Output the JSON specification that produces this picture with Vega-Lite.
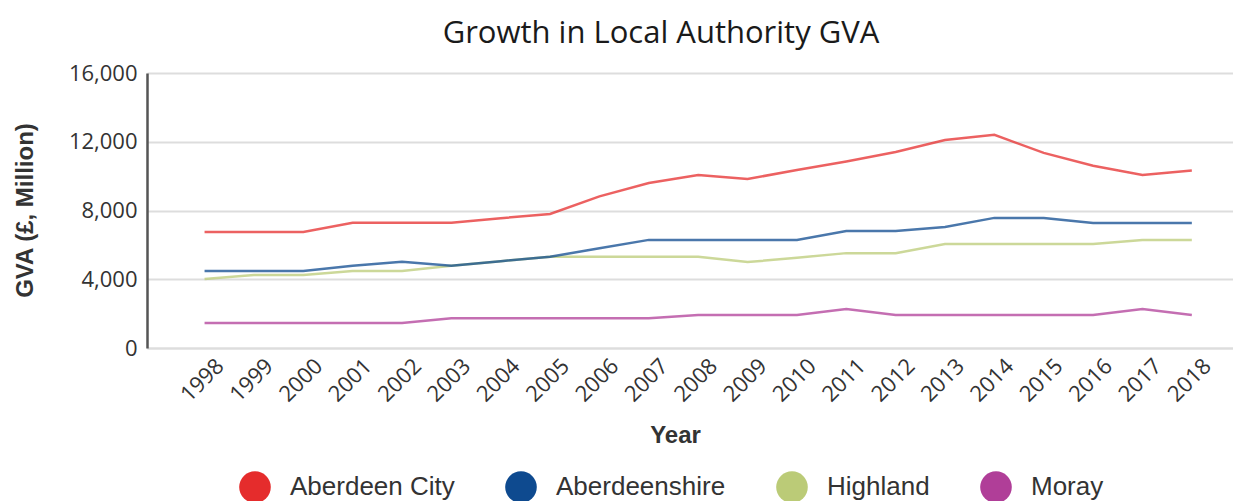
{
  "$schema": "https://vega.github.io/schema/vega-lite/v6.json",
  "autosize": "none",
  "width": 1086,
  "height": 275,
  "padding": {"left": 147, "top": 73, "right": 0, "bottom": 153},
  "background": "white",
  "title": {
    "text": "Growth in Local Authority GVA",
    "font": "Open Sans",
    "fontSize": 31,
    "fontWeight": "normal",
    "color": "#1a1a1a",
    "anchor": "middle",
    "dx": -29,
    "dy": 31,
    "offset": 19,
    "baseline": "alphabetic"
  },
  "data": {
    "values": [
      {"Year": 1998, "Area": "Highland", "GVA": 4010},
      {"Year": 1999, "Area": "Highland", "GVA": 4250},
      {"Year": 2000, "Area": "Highland", "GVA": 4250},
      {"Year": 2001, "Area": "Highland", "GVA": 4480},
      {"Year": 2002, "Area": "Highland", "GVA": 4480},
      {"Year": 2003, "Area": "Highland", "GVA": 4790},
      {"Year": 2004, "Area": "Highland", "GVA": 5050},
      {"Year": 2005, "Area": "Highland", "GVA": 5310},
      {"Year": 2006, "Area": "Highland", "GVA": 5310},
      {"Year": 2007, "Area": "Highland", "GVA": 5310},
      {"Year": 2008, "Area": "Highland", "GVA": 5310},
      {"Year": 2009, "Area": "Highland", "GVA": 5000},
      {"Year": 2010, "Area": "Highland", "GVA": 5250},
      {"Year": 2011, "Area": "Highland", "GVA": 5520},
      {"Year": 2012, "Area": "Highland", "GVA": 5520},
      {"Year": 2013, "Area": "Highland", "GVA": 6050},
      {"Year": 2014, "Area": "Highland", "GVA": 6050},
      {"Year": 2015, "Area": "Highland", "GVA": 6050},
      {"Year": 2016, "Area": "Highland", "GVA": 6050},
      {"Year": 2017, "Area": "Highland", "GVA": 6290},
      {"Year": 2018, "Area": "Highland", "GVA": 6290},
      {"Year": 1998, "Area": "Moray", "GVA": 1450},
      {"Year": 1999, "Area": "Moray", "GVA": 1450},
      {"Year": 2000, "Area": "Moray", "GVA": 1450},
      {"Year": 2001, "Area": "Moray", "GVA": 1450},
      {"Year": 2002, "Area": "Moray", "GVA": 1450},
      {"Year": 2003, "Area": "Moray", "GVA": 1730},
      {"Year": 2004, "Area": "Moray", "GVA": 1730},
      {"Year": 2005, "Area": "Moray", "GVA": 1730},
      {"Year": 2006, "Area": "Moray", "GVA": 1730},
      {"Year": 2007, "Area": "Moray", "GVA": 1730},
      {"Year": 2008, "Area": "Moray", "GVA": 1920},
      {"Year": 2009, "Area": "Moray", "GVA": 1920},
      {"Year": 2010, "Area": "Moray", "GVA": 1920},
      {"Year": 2011, "Area": "Moray", "GVA": 2270},
      {"Year": 2012, "Area": "Moray", "GVA": 1920},
      {"Year": 2013, "Area": "Moray", "GVA": 1920},
      {"Year": 2014, "Area": "Moray", "GVA": 1920},
      {"Year": 2015, "Area": "Moray", "GVA": 1920},
      {"Year": 2016, "Area": "Moray", "GVA": 1920},
      {"Year": 2017, "Area": "Moray", "GVA": 2270},
      {"Year": 2018, "Area": "Moray", "GVA": 1920},
      {"Year": 1998, "Area": "Aberdeenshire", "GVA": 4480},
      {"Year": 1999, "Area": "Aberdeenshire", "GVA": 4480},
      {"Year": 2000, "Area": "Aberdeenshire", "GVA": 4480},
      {"Year": 2001, "Area": "Aberdeenshire", "GVA": 4790},
      {"Year": 2002, "Area": "Aberdeenshire", "GVA": 5020},
      {"Year": 2003, "Area": "Aberdeenshire", "GVA": 4790},
      {"Year": 2004, "Area": "Aberdeenshire", "GVA": 5050},
      {"Year": 2005, "Area": "Aberdeenshire", "GVA": 5310},
      {"Year": 2006, "Area": "Aberdeenshire", "GVA": 5800},
      {"Year": 2007, "Area": "Aberdeenshire", "GVA": 6290},
      {"Year": 2008, "Area": "Aberdeenshire", "GVA": 6290},
      {"Year": 2009, "Area": "Aberdeenshire", "GVA": 6290},
      {"Year": 2010, "Area": "Aberdeenshire", "GVA": 6290},
      {"Year": 2011, "Area": "Aberdeenshire", "GVA": 6810},
      {"Year": 2012, "Area": "Aberdeenshire", "GVA": 6810},
      {"Year": 2013, "Area": "Aberdeenshire", "GVA": 7040},
      {"Year": 2014, "Area": "Aberdeenshire", "GVA": 7570},
      {"Year": 2015, "Area": "Aberdeenshire", "GVA": 7570},
      {"Year": 2016, "Area": "Aberdeenshire", "GVA": 7280},
      {"Year": 2017, "Area": "Aberdeenshire", "GVA": 7280},
      {"Year": 2018, "Area": "Aberdeenshire", "GVA": 7280},
      {"Year": 1998, "Area": "Aberdeen City", "GVA": 6750},
      {"Year": 1999, "Area": "Aberdeen City", "GVA": 6750},
      {"Year": 2000, "Area": "Aberdeen City", "GVA": 6750},
      {"Year": 2001, "Area": "Aberdeen City", "GVA": 7290},
      {"Year": 2002, "Area": "Aberdeen City", "GVA": 7290},
      {"Year": 2003, "Area": "Aberdeen City", "GVA": 7290},
      {"Year": 2004, "Area": "Aberdeen City", "GVA": 7550},
      {"Year": 2005, "Area": "Aberdeen City", "GVA": 7800},
      {"Year": 2006, "Area": "Aberdeen City", "GVA": 8820},
      {"Year": 2007, "Area": "Aberdeen City", "GVA": 9600},
      {"Year": 2008, "Area": "Aberdeen City", "GVA": 10070},
      {"Year": 2009, "Area": "Aberdeen City", "GVA": 9830},
      {"Year": 2010, "Area": "Aberdeen City", "GVA": 10360},
      {"Year": 2011, "Area": "Aberdeen City", "GVA": 10850},
      {"Year": 2012, "Area": "Aberdeen City", "GVA": 11400},
      {"Year": 2013, "Area": "Aberdeen City", "GVA": 12100},
      {"Year": 2014, "Area": "Aberdeen City", "GVA": 12400},
      {"Year": 2015, "Area": "Aberdeen City", "GVA": 11350},
      {"Year": 2016, "Area": "Aberdeen City", "GVA": 10600},
      {"Year": 2017, "Area": "Aberdeen City", "GVA": 10070},
      {"Year": 2018, "Area": "Aberdeen City", "GVA": 10330}
    ]
  },
  "mark": {"type": "line", "strokeWidth": 2.5, "strokeOpacity": 0.75},
  "encoding": {
    "x": {
      "field": "Year",
      "type": "ordinal",
      "sort": "ascending",
      "scale": {"type": "point", "padding": 1.185, "align": 0.583},
      "axis": {
        "title": "Year",
        "titleFont": "Liberation Sans",
        "titleFontSize": 24,
        "titleFontWeight": "bold",
        "titleColor": "#333333",
        "titleX": 528,
        "titleY": 94,
        "titleBaseline": "alphabetic",
        "titleAlign": "center",
        "labelAngle": -45,
        "labelAlign": "right",
        "labelBaseline": "top",
        "labelFont": "Open Sans",
        "labelFontSize": 22,
        "labelColor": "#333333",
        "labelOffset": 8,
        "labelPadding": 7,
        "labelOverlap": false,
        "ticks": false,
        "grid": false,
        "domainColor": "#dddddd",
        "domainWidth": 2
      }
    },
    "y": {
      "field": "GVA",
      "type": "quantitative",
      "scale": {"domain": [0, 16000], "nice": false},
      "axis": {
        "title": "GVA (£, Million)",
        "titleFont": "Liberation Sans",
        "titleFontSize": 24,
        "titleFontWeight": "bold",
        "titleColor": "#333333",
        "titleX": -115,
        "titleY": 137,
        "titleAngle": -90,
        "titleAlign": "center",
        "titleBaseline": "alphabetic",
        "values": [0, 4000, 8000, 12000, 16000],
        "format": ",d",
        "labelFont": "Open Sans",
        "labelFontSize": 22,
        "labelColor": "#333333",
        "labelPadding": 10,
        "ticks": false,
        "domainColor": "#555555",
        "domainWidth": 2.5,
        "gridColor": "#dddddd",
        "gridWidth": 2
      }
    },
    "color": {
      "field": "Area",
      "type": "nominal",
      "scale": {
        "domain": ["Aberdeen City", "Aberdeenshire", "Highland", "Moray"],
        "range": ["#E52C2C", "#0E4A8F", "#BBCB77", "#B03E98"]
      },
      "legend": {
        "title": null,
        "orient": "none",
        "legendX": 92,
        "legendY": 398,
        "direction": "horizontal",
        "symbolType": "circle",
        "symbolSize": 1000,
        "symbolStrokeWidth": 0,
        "symbolOpacity": 1,
        "labelFont": "Liberation Sans",
        "labelFontSize": 26,
        "labelLimit": 400,
        "labelColor": "#333333",
        "labelOffset": 19,
        "columnPadding": 50,
        "padding": 0,
        "encode": {
          "symbols": {
            "update": {
              "fill": {"scale": "color", "field": "value"},
              "fillOpacity": {"value": 1},
              "opacity": {"value": 1}
            }
          }
        }
      }
    }
  },
  "config": {"view": {"stroke": null}}
}
